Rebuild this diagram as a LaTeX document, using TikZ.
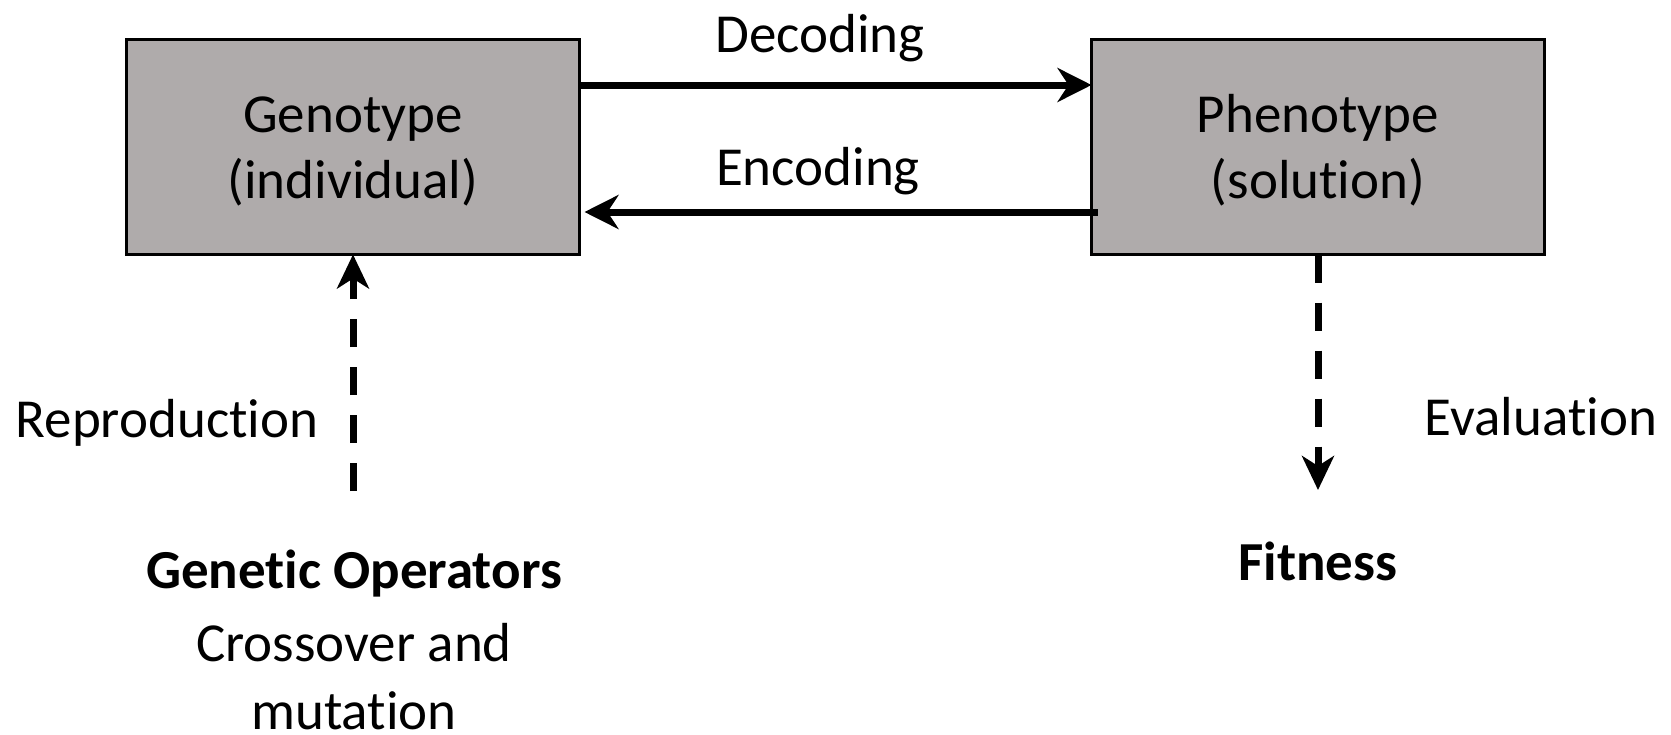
\documentclass[tikz,border=0pt]{standalone}
\usepackage{fontspec}
\setmainfont{Carlito}[Ligatures={NoCommon}]
\usetikzlibrary{arrows.meta}
\definecolor{boxgray}{RGB}{175,171,171}
\tikzset{
  boxnode/.style={draw=black, line width=3.3pt, fill=boxgray, minimum width=453pt, minimum height=215pt, inner sep=0pt, outer sep=0pt},
  lbl/.style={font=\fontsize{55}{66}\selectfont, inner sep=0pt, outer sep=0pt, anchor=base},
  lbltwo/.style={lbl, align=center},
  solidarrow/.style={line width=7pt, -{Stealth[length=34pt,width=34pt,inset=11pt]}},
  dasharrow/.style={line width=7pt, dash pattern=on 28pt off 20pt, -{Stealth[length=34pt,width=32pt,inset=10pt]}}
}
\begin{document}
\begin{tikzpicture}[x=1pt,y=-1pt]
\useasboundingbox[fill=white] (0,0) rectangle (1671,734);
\node[boxnode] (geno) at (353,147) {};
\node[boxnode] (pheno) at (1318,147) {};
\node[lbltwo] (genotxt) at (353,198) {Genotype\\(individual)};
\node[lbltwo] (phenotxt) at (1318,198) {Phenotype\\(solution)};
\node[lbl] (dec) at (820,52) {Decoding};
\node[lbl] (enc) at (818,185) {Encoding};
\node[lbl] (repro) at (167,437) {Reproduction};
\node[lbl] (evalu) at (1541,435) {Evaluation};
\node[lbl, font=\fontsize{55}{66}\selectfont\bfseries] (genop) at (354,588) {Genetic Operators};
\node[lbl] (cross) at (354,661) {Crossover and};
\node[lbl] (mut) at (354,729) {mutation};
\node[lbl, font=\fontsize{55}{66}\selectfont\bfseries] (fit) at (1318,580) {Fitness};
\coordinate (dy) at (0,85);
\coordinate (ey) at (0,212);
\coordinate (upstart) at (353,491);
\coordinate (downend) at (1318,490);
\draw[solidarrow] (geno.east |- dy) -- (pheno.west |- dy);
\draw[solidarrow] ([xshift=6pt]pheno.west |- ey) -- ([xshift=5pt]geno.east |- ey);
\draw[dasharrow] (upstart) -- (geno.south);
\draw[dasharrow] (pheno.south) -- (downend);
\end{tikzpicture}
\end{document}
